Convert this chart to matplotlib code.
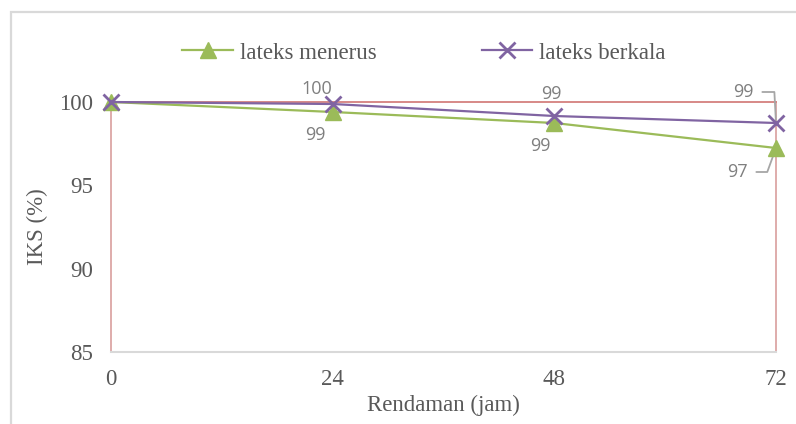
import matplotlib
matplotlib.use("Agg")
import matplotlib.pyplot as plt
from matplotlib.patches import Rectangle

hours = [0, 24, 48, 72]
x_ticks = [0, 24, 48, 72]
y_ticks = [85, 90, 95, 100]
menerus = [100.0, 99.4, 98.74, 97.24]
berkala = [100.0, 99.88, 99.16, 98.74]
menerus_labels = ["", "99", "99", "97"]
berkala_labels = ["", "100", "99", "99"]

green = "#9BBB59"
purple = "#8064A2"
gray_txt = "#595959"
lab_gray = "#7F7F7F"
serif = ["Liberation Serif", "DejaVu Serif"]
sans = ["Open Sans", "DejaVu Sans"]
FS = 16.5

fig = plt.figure(figsize=(7.96, 4.24), dpi=100)
W, H = 796, 424
ax = fig.add_axes([111 / W, 1 - 352 / H, (776 - 111) / W, (352 - 102) / H])

# outer chart border
fig.patches.append(Rectangle((10.5 / W, -0.1), 1.0, 1 - 12.5 / H + 0.1,
                             transform=fig.transFigure, fill=False,
                             edgecolor="#D9D9D9", linewidth=1.6))

ax.plot(hours, menerus, color=green, lw=1.6, marker="^", ms=12,
        markerfacecolor=green, markeredgecolor=green, clip_on=False,
        zorder=4, label="lateks menerus")
ax.plot(hours, berkala, color=purple, lw=1.6, marker="x", ms=12, mew=2,
        clip_on=False, zorder=5, label="lateks berkala")

ax.set_xlim(0, 72)
ax.set_ylim(85, 100)
ax.set_xticks(x_ticks)
ax.set_yticks(y_ticks)
ax.set_xticklabels([str(v) for v in x_ticks], fontfamily=serif, fontsize=FS, color=gray_txt)
ax.set_yticklabels([str(v) for v in y_ticks], fontfamily=serif, fontsize=FS, color=gray_txt)
ax.tick_params(length=0)
ax.tick_params(axis="y", pad=13)
ax.tick_params(axis="x", pad=12)

for s in ["left", "right"]:
    ax.spines[s].set_color("#DCA6A5")
    ax.spines[s].set_linewidth(1.3)
ax.spines["top"].set_color("#D4807E")
ax.spines["top"].set_linewidth(1.3)
ax.spines["bottom"].set_color("#D9D9D9")
ax.spines["bottom"].set_linewidth(1.5)

ax.set_xlabel("Rendaman (jam)", fontfamily=serif, fontsize=FS, color=gray_txt, labelpad=4)
ax.set_ylabel("IKS (%)", fontfamily=serif, fontsize=FS, color=gray_txt, labelpad=8)

# data labels (offsets in pixels)
g_off = [None, (-17, -23), (-14, -23), (-28, -24)]
p_off = [None, (-16, 15), (-3, 22), (-22, 31)]
g_angle = 70
p_angle = 93
for i in range(1, 4):
    for vals, labs, offs, ang in ((menerus, menerus_labels, g_off, g_angle),
                                  (berkala, berkala_labels, p_off, p_angle)):
        dx, dy = offs[i]
        if i == 3:
            ax.annotate(labs[i], xy=(hours[i], vals[i]), xytext=(dx, dy),
                        textcoords="offset pixels", ha="right", va="center",
                        fontsize=13, color=lab_gray, fontfamily=sans,
                        annotation_clip=False,
                        arrowprops=dict(arrowstyle="-", color="#A6A6A6", lw=1.3,
                                        shrinkA=4, shrinkB=2, relpos=(1, 0.5),
                                        connectionstyle="angle,angleA=0,angleB=%d,rad=0" % ang))
        else:
            ax.annotate(labs[i], xy=(hours[i], vals[i]), xytext=(dx, dy),
                        textcoords="offset pixels", ha="center", va="center",
                        fontsize=13, color=lab_gray, fontfamily=sans,
                        annotation_clip=False)

leg = fig.legend(loc="center", bbox_to_anchor=(424 / W, 1 - 53 / H), ncol=2,
                 frameon=False, prop={"family": serif, "size": FS},
                 handlelength=2.2, columnspacing=4.6, handletextpad=0.3)
for t in leg.get_texts():
    t.set_color(gray_txt)

fig.savefig("out.png", dpi=100)
